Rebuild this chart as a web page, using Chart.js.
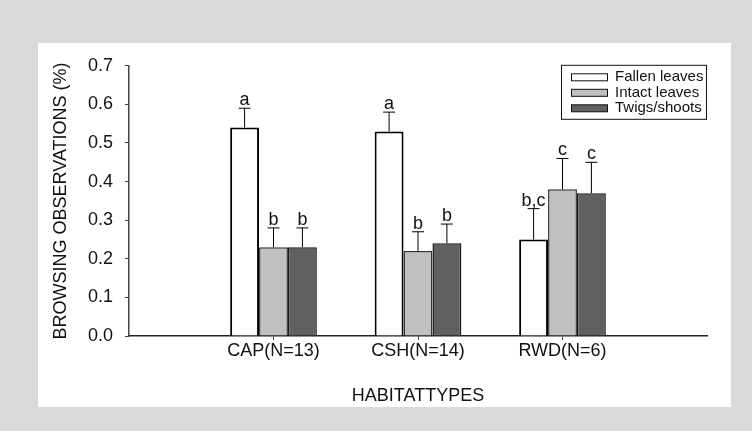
<!DOCTYPE html>
<html>
<head>
<meta charset="utf-8">
<script src="https://cdn.jsdelivr.net/npm/chart.js@4.4.0/dist/chart.umd.min.js"></script>
<style>
  html,body{margin:0;padding:0;background:#d9d9d9;width:752px;height:431px;overflow:hidden;}
  #panel{position:absolute;left:38px;top:43px;width:693px;height:364px;background:#fff;}
  canvas{display:block;}
</style>
</head>
<body>
<div id="panel"><canvas id="c" width="693" height="364"></canvas></div>
<script>
/* ---------- data ---------- */
const categories=['CAP(N=13)','CSH(N=14)','RWD(N=6)'];
const seriesNames=['Fallen leaves','Intact leaves','Twigs/shoots'];
const fallen   =[0.54,0.53,0.25], fallenSE=[0.05,0.05,0.08];
const intact   =[0.23,0.22,0.38], intactSE=[0.05,0.05,0.08];
const twigs    =[0.23,0.24,0.37], twigsSE =[0.05,0.05,0.08];
const fallenLetters=['a','a','b,c'],
      intactLetters=['b','b','c'],
      twigsLetters =['b','b','c'];
const yTicks=[0,0.1,0.2,0.3,0.4,0.5,0.6,0.7];

/* ---------- styling ---------- */
const FONT='"Liberation Sans", Arial, Helvetica, sans-serif';
const fills  =['#ffffff','#c0c0c0','#606060'],
      borders=['#000000','#333333','#1a1a1a'],
      bWidths=[2,1.5,1.5];
Chart.defaults.color='#111';
Chart.defaults.font.family=FONT;

// pad the category axis with empty slots on both sides
const labels=['',...categories,''];
const pad=a=>[null,...a,null];
const values=[fallen,intact,twigs], errs=[fallenSE,intactSE,twigsSE],
      letters=[fallenLetters,intactLetters,twigsLetters];

/* ---------- plugins ---------- */
const errorBars={
  id:'errorBars',
  afterDatasetsDraw(chart){
    const ctx=chart.ctx, y=chart.scales.y;
    ctx.save();
    values.forEach((vals,i)=>{
      const meta=chart.getDatasetMeta(i);
      vals.forEach((v,j)=>{
        const bar=meta.data[j+1]; if(!bar) return;
        const top=y.getPixelForValue(v+errs[i][j]);
        ctx.strokeStyle='#000';ctx.lineWidth=1;
        ctx.beginPath();
        ctx.moveTo(bar.x,bar.y);ctx.lineTo(bar.x,top);
        ctx.moveTo(bar.x-6,top);ctx.lineTo(bar.x+6,top);
        ctx.stroke();
        ctx.fillStyle='#111';ctx.font='18px '+FONT;
        ctx.textAlign='center';ctx.textBaseline='alphabetic';
        ctx.fillText(letters[i][j],bar.x,top-3);
      });
    });
    ctx.restore();
  }
};
const boxLegend={
  id:'boxLegend',
  afterDraw(chart){
    const ctx=chart.ctx, a=chart.chartArea;
    const w=146,h=55, x0=a.right-w, y0=a.top-1;
    ctx.save();
    ctx.fillStyle='#fff';ctx.fillRect(x0,y0,w,h);
    ctx.strokeStyle='#111';ctx.lineWidth=1;
    ctx.strokeRect(x0+0.5,y0+0.5,w-1,h-1);
    ctx.font='15px '+FONT;ctx.textBaseline='middle';ctx.textAlign='left';
    seriesNames.forEach((n,i)=>{
      const cy=y0+12.5+i*15.5;
      ctx.fillStyle=fills[i];ctx.fillRect(x0+10,cy-3.5,37,7);
      ctx.strokeStyle='#111';ctx.strokeRect(x0+10.5,cy-3.5,36,7);
      ctx.fillStyle='#111';ctx.fillText(n,x0+54,cy);
    });
    ctx.restore();
  }
};

/* ---------- chart ---------- */
new Chart(document.getElementById('c'),{
  type:'bar',
  data:{labels,datasets:values.map((v,i)=>({
    label:seriesNames[i],data:pad(v),
    backgroundColor:fills[i],borderColor:borders[i],borderWidth:bWidths[i],
    categoryPercentage:0.6,barPercentage:1.0
  }))},
  options:{
    responsive:false,animation:false,
    layout:{padding:{left:0,right:24,top:21,bottom:0}},
    plugins:{legend:{display:false},tooltip:{enabled:false}},
    scales:{
      x:{
        offset:false,
        grid:{offset:false,drawOnChartArea:false,drawTicks:true,tickLength:4,
              color:c=>(c.index===0||c.index===labels.length-1)?'rgba(0,0,0,0)':'#444'},
        border:{color:'#222',width:1.5},
        ticks:{font:{size:18},color:'#111',padding:0,autoSkip:false,maxRotation:0},
        title:{display:true,text:'HABITATTYPES',font:{size:18},color:'#111',padding:{top:0,bottom:0}},
        afterFit:s=>{s.height=71;}
      },
      y:{
        min:0,max:0.7,
        afterBuildTicks:s=>{s.ticks=yTicks.map(v=>({value:v}));},
        grid:{drawOnChartArea:false,drawTicks:true,tickLength:4,color:'#444'},
        border:{color:'#444',width:1.5},
        ticks:{font:{size:18},color:'#111',padding:12,callback:v=>v.toFixed(1)},
        title:{display:true,text:'BROWSING OBSERVATIONS (%)',font:{size:18},color:'#111',padding:{top:12,bottom:0}},
        afterFit:s=>{s.width=91;}
      }
    }
  },
  plugins:[errorBars,boxLegend]
});
</script>
</body>
</html>
